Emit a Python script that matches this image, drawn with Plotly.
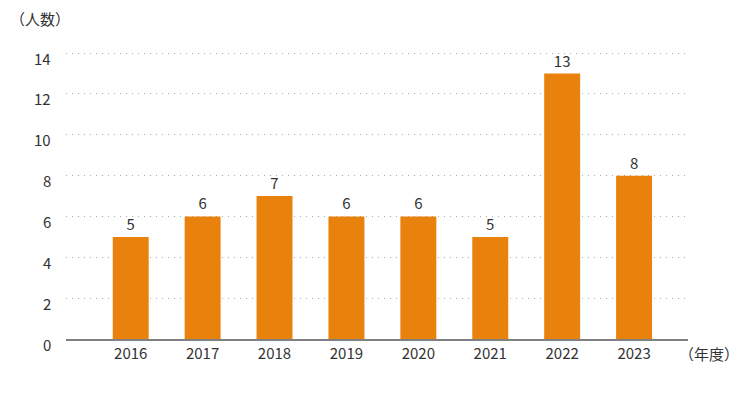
import plotly.graph_objects as go

years = ["2016", "2017", "2018", "2019", "2020", "2021", "2022", "2023"]
counts = [5, 6, 7, 6, 6, 5, 13, 8]
y_ticks = [0, 2, 4, 6, 8, 10, 12, 14]

FONT = "Noto Sans CJK JP"
TXT = "#333333"
xpos = list(range(len(years)))

fig = go.Figure(go.Bar(
    x=xpos, y=counts, width=0.5,
    marker=dict(color="#E8820C", line=dict(width=0)),
    text=[str(c) for c in counts], textposition="outside",
    textfont=dict(family=FONT, size=15, color=TXT),
    cliponaxis=False,
))

annotations = [
    dict(text=str(v), xref="paper", yref="y", x=0, y=v,
         xanchor="right", yanchor="middle", xshift=-13, yshift=-5,
         showarrow=False, font=dict(family=FONT, size=15, color=TXT))
    for v in y_ticks
]
annotations += [
    dict(text="（人数）", xref="paper", yref="paper", x=(40 - 66) / 622, y=1.0,
         xanchor="center", yanchor="middle", yshift=47 - 18, showarrow=False,
         font=dict(family=FONT, size=15, color=TXT)),
    dict(text="（年度）", xref="paper", yref="paper", x=(709 - 66) / 622, y=0,
         xanchor="center", yanchor="middle", yshift=-14, showarrow=False,
         font=dict(family=FONT, size=15, color=TXT)),
]

fig.update_layout(
    width=750, height=400,
    margin=dict(l=58, r=70, t=39, b=69, autoexpand=False),
    paper_bgcolor="white", plot_bgcolor="white",
    showlegend=False,
    font=dict(family=FONT, size=15, color=TXT),
    xaxis=dict(
        range=[-0.9, 7.75], tickvals=xpos, ticktext=years,
        showgrid=False, zeroline=False, automargin=False,
        showline=True, linecolor="#808080", linewidth=2,
        ticks="", tickfont=dict(family=FONT, size=15, color=TXT),
    ),
    yaxis=dict(
        range=[0, 14.3], tickvals=y_ticks, automargin=False,
        showgrid=True, gridcolor="#AAAAAA", griddash="1px,5px", gridwidth=1,
        zeroline=False, showline=False, ticks="", showticklabels=False,
    ),
    annotations=annotations,
)

fig.write_html("out.html")
